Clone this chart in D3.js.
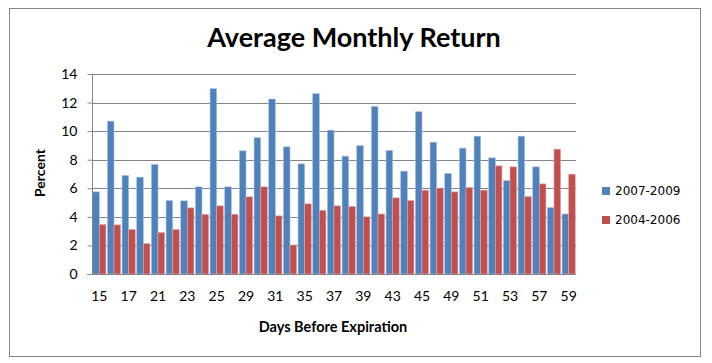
<!DOCTYPE html>
<html>
<head>
<meta charset="utf-8">
<script src="https://cdn.jsdelivr.net/npm/d3@7"></script>
<style>
  body { margin: 0; background: #fff; }
  svg { display: block; }
</style>
</head>
<body>
<svg id="chart"></svg>
<script>
var width = 712;
var height = 363;

// trading days before expiration (weekends skipped)
var days = [15, 16, 17, 18, 21, 22, 23, 24, 25, 28, 29, 30, 31, 32, 35, 36, 37,
            38, 39, 42, 43, 44, 45, 46, 49, 50, 51, 52, 53, 56, 57, 58, 59];
var series_names = ["2007-2009", "2004-2006"];
var ret_0709 = [5.75, 10.7, 6.9, 6.78, 7.67, 5.14, 5.12, 6.1, 12.97, 6.1, 8.62, 9.54, 12.25,
                8.9, 7.71, 12.62, 10.07, 8.25, 8.98, 11.73, 8.65, 7.2, 11.36, 9.23, 7.04,
                8.81, 9.65, 8.13, 6.54, 9.65, 7.5, 4.65, 4.2];
var ret_0406 = [3.46, 3.44, 3.11, 2.13, 2.9, 3.11, 4.63, 4.18, 4.77, 4.18, 5.4, 6.1, 4.07,
                2.03, 4.91, 4.46, 4.77, 4.72, 4.0, 4.2, 5.33, 5.14, 5.87, 6.01, 5.75,
                6.05, 5.87, 7.57, 7.5, 5.42, 6.31, 8.74, 6.99];
var y_ticks = [0, 2, 4, 6, 8, 10, 12, 14];
var colors = ["#4f81bd", "#c0504d"];
var edge_colors = ["#a9c1e0", "#e2a6a4"];

var plot = {left: 92, right: 576, top: 74, bottom: 274};

var svg = d3.select("#chart")
    .attr("width", width)
    .attr("height", height);

// outer frame
svg.append("rect")
    .attr("x", 9.5).attr("y", 8.5)
    .attr("width", 691).attr("height", 348)
    .attr("fill", "#fff")
    .attr("stroke", "#868686");

svg.append("text")
    .attr("x", 354).attr("y", 47)
    .attr("text-anchor", "middle")
    .style("font-family", "Lato")
    .style("font-weight", "bold")
    .style("font-size", "27px")
    .text("Average Monthly Return");

var x = d3.scaleBand()
    .domain(days)
    .range([plot.left, plot.right])
    .paddingInner(0.1)
    .paddingOuter(0.05);

var xs = d3.scaleBand()
    .domain(series_names)
    .range([0, x.bandwidth()]);

var y = d3.scaleLinear()
    .domain([0, 14])
    .range([plot.bottom, plot.top]);

// gridlines
svg.append("g")
    .selectAll("line")
    .data(y_ticks.filter(function(d) { return d > 0; }))
    .enter().append("line")
      .attr("x1", plot.left).attr("x2", plot.right)
      .attr("y1", function(d) { return Math.round(y(d)) + 0.5; })
      .attr("y2", function(d) { return Math.round(y(d)) + 0.5; })
      .attr("stroke", "#868686");

// bars
var table = days.map(function(d, i) {
    return {day: d, values: [ret_0709[i], ret_0406[i]]};
});

var groups = svg.append("g")
    .selectAll("g")
    .data(table)
    .enter().append("g")
      .attr("transform", function(d) { return "translate(" + x(d.day) + ",0)"; });

groups.selectAll("rect")
    .data(function(d) {
        return d.values.map(function(v, k) { return {name: series_names[k], k: k, v: v}; });
    })
    .enter().append("rect")
      .attr("x", function(d) { return xs(d.name); })
      .attr("y", function(d) { return y(d.v); })
      .attr("width", xs.bandwidth())
      .attr("height", function(d) { return y(0) - y(d.v); })
      .attr("fill", function(d) { return colors[d.k]; })
      .attr("stroke", function(d) { return edge_colors[d.k]; })
      .attr("stroke-width", 0.6);

// y axis
var yAxis = svg.append("g")
    .attr("transform", "translate(" + (plot.left + 0.5) + ",0)")
    .call(d3.axisLeft(y).tickValues(y_ticks).tickSize(5).tickPadding(10));
yAxis.select(".domain").attr("stroke", "#868686").attr("d", "M0," + plot.top + "V" + plot.bottom);
yAxis.selectAll(".tick line").attr("stroke", "#868686");
yAxis.selectAll("text")
    .style("font-family", "Lato")
    .style("font-size", "14px")
    .attr("fill", "#000");

// x axis
var xAxis = svg.append("g")
    .attr("transform", "translate(0," + (plot.bottom + 0.5) + ")")
    .call(d3.axisBottom(x)
        .tickValues(days.filter(function(d, i) { return i % 2 === 0; }))
        .tickSize(0).tickPadding(17));
xAxis.select(".domain").attr("stroke", "#868686").attr("d", "M" + (plot.left - 5) + ",0H" + plot.right);
xAxis.selectAll("text")
    .style("font-family", "Lato")
    .style("font-size", "14px")
    .attr("fill", "#000");

// axis titles
svg.append("text")
    .attr("transform", "translate(45,173) rotate(-90)")
    .attr("text-anchor", "middle")
    .style("font-family", "Lato")
    .style("font-weight", "bold")
    .style("font-size", "14px")
    .text("Percent");

svg.append("text")
    .attr("x", 333).attr("y", 332)
    .attr("text-anchor", "middle")
    .style("font-family", "Lato")
    .style("font-weight", "bold")
    .style("font-size", "14.5px")
    .text("Days Before Expiration");

// legend
var legend = svg.append("g")
    .selectAll("g")
    .data(series_names)
    .enter().append("g")
      .attr("transform", function(d, i) { return "translate(602," + (191 + i * 29) + ")"; });

legend.append("rect")
    .attr("x", 0).attr("y", -4)
    .attr("width", 8).attr("height", 8)
    .attr("fill", function(d, i) { return colors[i]; });

legend.append("text")
    .attr("x", 13).attr("y", 0)
    .attr("dy", "0.35em")
    .style("font-family", "DejaVu Sans")
    .style("font-size", "12px")
    .text(function(d) { return d; });
</script>
</body>
</html>
